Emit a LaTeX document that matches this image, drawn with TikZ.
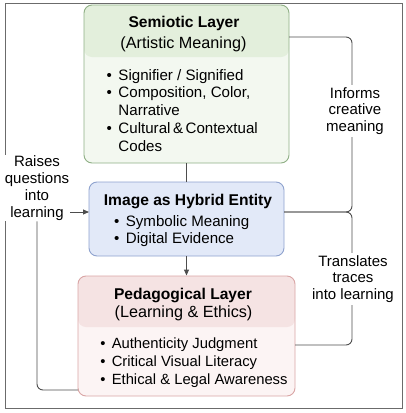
\documentclass[tikz,border=0pt]{standalone}
\usepackage{fontspec}
\setmainfont{Liberation Sans}
\usetikzlibrary{arrows.meta,calc}
\definecolor{semhead}{HTML}{E3EFDC}
\definecolor{sembody}{HTML}{F3F8F0}
\definecolor{semborder}{HTML}{8FAF85}
\definecolor{hybfill}{HTML}{E2E9F8}
\definecolor{hybborder}{HTML}{8EA2CE}
\definecolor{pedhead}{HTML}{F5E3E3}
\definecolor{pedbody}{HTML}{FCF4F4}
\definecolor{pedborder}{HTML}{D9A5A5}
\definecolor{linegray}{HTML}{4D4D4D}
\definecolor{framegray}{HTML}{6B6B6B}
\begin{document}
\begin{tikzpicture}[x=1pt,y=-1pt,
  box/.style={draw, rounded corners=8pt, line width=0.9pt, inner sep=0pt},
  ttl/.style={font=\fontsize{15.6}{18}\selectfont\bfseries, anchor=base, inner sep=0pt},
  sub/.style={font=\fontsize{16.2}{18}\selectfont, anchor=base, inner sep=0pt},
  blist/.style={font=\fontsize{15.1}{17.9}\selectfont, anchor=base west, inner sep=0pt},
  conn/.style={draw=linegray, line width=0.9pt, rounded corners=6pt},
  lbl/.style={font=\fontsize{15}{16.8}\selectfont, align=center, fill=white, inner sep=2pt}
]
\useasboundingbox (0,0) rectangle (406,413);
\draw[framegray, line width=1pt] (5,3) rectangle (402,408);

% boxes
\node[box, draw=semborder, fill=sembody, minimum width=205pt, minimum height=158pt,
  path picture={\fill[semhead] (path picture bounding box.north west) rectangle ($(path picture bounding box.north east)+(0,-52pt)$);}]
  (sem) at (186.5,84) {};
\node[box, draw=hybborder, fill=hybfill, minimum width=195pt, minimum height=74pt]
  (hyb) at (186.5,219) {};
\node[box, draw=pedborder, fill=pedbody, minimum width=217pt, minimum height=120pt,
  path picture={\fill[pedhead] (path picture bounding box.north west) rectangle ($(path picture bounding box.north east)+(0,-51pt)$);}]
  (ped) at (186.5,336) {};

% semiotic text
\node[ttl] (semt) at (184,27) {Semiotic Layer};
\node[sub] (sems) at (183.5,48.5) {(Artistic Meaning)};
\node[blist] (seml) at (106.5,80) {\begin{tabular}[t]{@{}l@{\hspace{6.5pt}}l@{}}
•&Signifier / Signified\\
•&Composition, Color,\\
&Narrative\\
•&Cultural\,\&\,Contextual\\
&Codes\end{tabular}};

% hybrid text
\node[ttl] (hybt) at (188,205.5) {Image as Hybrid Entity};
\node[blist] (hybl) at (113.9,226) {\begin{tabular}[t]{@{}l@{\hspace{6.5pt}}l@{}}
•&Symbolic Meaning\\[-0.4pt]
•&Digital Evidence\end{tabular}};

% pedagogical text
\node[ttl] (pedt) at (183,299.5) {Pedagogical Layer};
\node[sub] (peds) at (183.5,317.5) {(Learning \& Ethics)};
\node[blist, font=\fontsize{14.8}{17.9}\selectfont] (pedl) at (100.2,348.5) {\begin{tabular}[t]{@{}l@{\hspace{6.2pt}}l@{}}
•&Authenticity Judgment\\
•&Critical Visual Literacy\\
•&Ethical \& Legal Awareness\end{tabular}};

% anchor coordinates
\coordinate (semR) at (289,37);
\coordinate (hybR) at (284,212);
\coordinate (hybL) at (89,212);
\coordinate (pedR) at (295,345);
\coordinate (pedL) at (78,390);
\coordinate (rb) at (352,212);

% connectors
\draw[conn] (sem.south) -- (hyb.north);
\draw[conn, -{Triangle[length=6pt,width=5pt]}] (hyb.south) -- (ped.north);
\draw[conn] (semR) -- (352,37) -- (rb) -- (hybR);
\draw[conn] (hybR) -- (rb) -- (352,345) -- (pedR);

% labels
\node[lbl] (inf) at (355,111) {Informs\\creative\\meaning};
\node[lbl] (tra) at (353,279) {Translates\\traces\\into learning};
\node[lbl, inner sep=1pt] (rai) at (37,188) {Raises\\questions\\into\\learning};

\draw[conn] (pedL) -| (rai.south);
\draw[conn, -{Triangle[length=6pt,width=5pt]}] (rai.east |- hybL) -- (hybL);
\end{tikzpicture}
\end{document}
